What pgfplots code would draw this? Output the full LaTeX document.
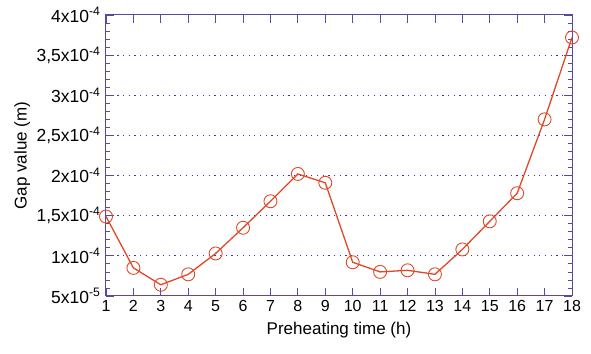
\documentclass[border=0pt]{standalone}
\usepackage{pgfplots}
\pgfplotsset{compat=1.18}
\usepackage{fontspec}
\setmainfont{Liberation Sans}
\definecolor{axcol}{RGB}{88,72,160}
\definecolor{gridcol}{RGB}{60,50,190}
\definecolor{linecol}{RGB}{225,72,40}
\begin{document}
\begin{tikzpicture}
\begin{axis}[
  scale only axis,
  width=466pt, height=281pt,
  xmin=1, xmax=18, ymin=5e-5, ymax=4e-4,
  xtick={1,...,18},
  ytick={5e-5,1e-4,1.5e-4,2e-4,2.5e-4,3e-4,3.5e-4,4e-4},
  yticklabels={{5x10\textsuperscript{-5}},{1x10\textsuperscript{-4}},{1,5x10\textsuperscript{-4}},{2x10\textsuperscript{-4}},{2,5x10\textsuperscript{-4}},{3x10\textsuperscript{-4}},{3,5x10\textsuperscript{-4}},{4x10\textsuperscript{-4}}},
  minor y tick num=4,
  scaled y ticks=false,
  /pgf/number format/assume math mode=true,
  tick align=inside,
  major tick length=8pt, minor tick length=4pt,
  axis line style={axcol, line width=1pt},
  every tick/.style={axcol, line width=0.8pt},
  ymajorgrids,
  grid style={gridcol, line width=1pt, dash pattern=on 1.2pt off 4.5pt},
  xticklabel style={font=\fontsize{16}{18}\selectfont, black, yshift=-1pt},
  yticklabel style={font=\fontsize{17.5}{19}\selectfont, black, xshift=-2pt},
  label style={font=\fontsize{17}{20}\selectfont},
  xlabel={Preheating time (h)},
  ylabel={Gap value (m)},
  xlabel style={at={(axis description cs:0.5,-0.121)}, anchor=center},
  ylabel style={at={(axis description cs:-0.18,0.5)}, anchor=center},
  clip=false,
]
\addplot[linecol, line width=1.3pt, mark=o, mark size=6.5pt, mark options={line width=0.9pt}]
coordinates {
(1,1.49e-4) (2,8.5e-5) (3,6.4e-5) (4,7.7e-5) (5,1.03e-4) (6,1.35e-4)
(7,1.68e-4) (8,2.02e-4) (9,1.91e-4) (10,9.2e-5) (11,8.0e-5) (12,8.2e-5)
(13,7.7e-5) (14,1.08e-4) (15,1.43e-4) (16,1.78e-4) (17,2.70e-4) (18,3.72e-4)
};
\end{axis}
\path ([shift={(-106pt,-57pt)}]current axis.south west) rectangle ([shift={(19pt,15pt)}]current axis.north east);
\end{tikzpicture}
\end{document}
